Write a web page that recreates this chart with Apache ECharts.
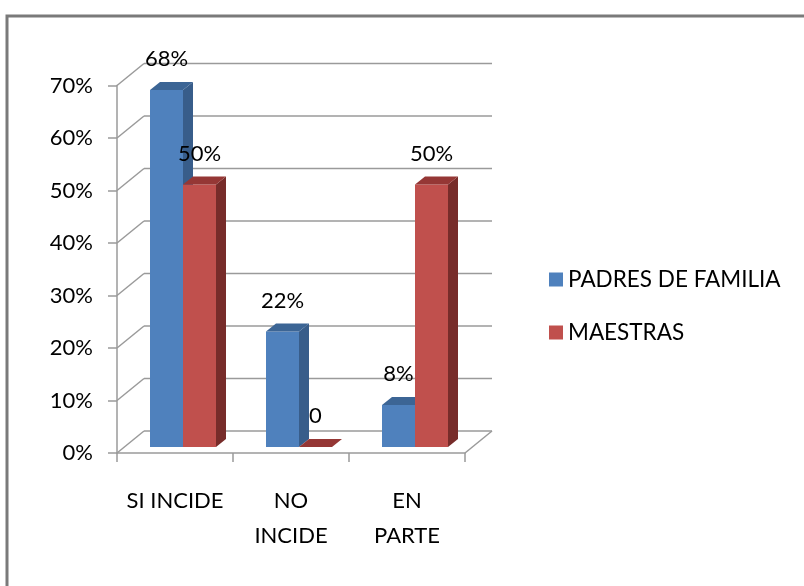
<!DOCTYPE html>
<html><head><meta charset="utf-8">
<script src="https://cdn.jsdelivr.net/npm/echarts@6/dist/echarts.min.js"></script>
<style>html,body{margin:0;padding:0;background:#fff}#c{width:804px;height:586px}</style>
</head><body><div id="c"></div>
<script>
const categories = ['SI INCIDE', 'NO\nINCIDE', 'EN\nPARTE'];
const padres = [68, 22, 8];
const maestras = [50, 0, 50];
const yTicks = [0, 10, 20, 30, 40, 50, 60, 70];
const seriesNames = ['PADRES DE FAMILIA', 'MAESTRAS'];

const FONT = 'Lato';
const DEPTH_X = 27, DEPTH_Y = -22;      // back wall offset
const BAR_DX = 8, BAR_DY = -6;          // bar front plane offset
const SIDE_X = 10, SIDE_Y = -8;         // bar thickness
const BAR_FRAC = 33 / 116;

const palettes = [
  {front: '#4F81BD', side: '#385D8A', top: '#3C6595'},
  {front: '#C0504D', side: '#772C2A', top: '#953735'}
];

function barRender(si) {
  return function (params, api) {
    const idx = api.value(0), val = api.value(1);
    const pTop = api.coord([idx, val]);
    const pBase = api.coord([idx, 0]);
    const band = api.size([1, 0])[0];
    const bw = band * BAR_FRAC;
    const cx = pTop[0] + BAR_DX;
    const xl = si === 0 ? cx - bw : cx;
    const yT = pTop[1] + BAR_DY, yB = pBase[1] + BAR_DY;
    const pal = palettes[si];
    const children = [];
    if (yB - yT > 0.5) {
      children.push({type: 'rect', shape: {x: xl, y: yT, width: bw, height: yB - yT}, style: {fill: pal.front}});
      children.push({type: 'polygon', shape: {points: [[xl + bw, yT], [xl + bw + SIDE_X, yT + SIDE_Y], [xl + bw + SIDE_X, yB + SIDE_Y], [xl + bw, yB]]}, style: {fill: pal.side}});
    }
    children.push({type: 'polygon', shape: {points: [[xl, yT], [xl + SIDE_X, yT + SIDE_Y], [xl + bw + SIDE_X, yT + SIDE_Y], [xl + bw, yT]]}, style: {fill: pal.top}});
    children.push({type: 'text', style: {text: val === 0 ? '0' : val + '%', x: xl + bw / 2, y: yT - 20, align: 'center', verticalAlign: 'bottom', fill: '#000', font: '22px ' + FONT}});
    return {type: 'group', children: children};
  };
}

function wallRender(params, api) {
  const v = api.value(1);
  const cs = params.coordSys;
  const x0 = cs.x, x1 = cs.x + cs.width;
  const y = api.coord([0, v])[1];
  const st = {stroke: '#9a9a9a', lineWidth: 1.5};
  const ch = [
    {type: 'line', shape: {x1: x0, y1: y, x2: x0 + DEPTH_X, y2: y + DEPTH_Y}, style: st},
    {type: 'line', shape: {x1: x0 + DEPTH_X, y1: y + DEPTH_Y, x2: x1 + DEPTH_X, y2: y + DEPTH_Y}, style: st}
  ];
  if (v === 0) {
    ch.push({type: 'line', shape: {x1: x1, y1: y, x2: x1 + DEPTH_X, y2: y + DEPTH_Y}, style: st});
  }
  return {type: 'group', children: ch};
}

const chart = echarts.init(document.getElementById('c'));
chart.setOption({
  animation: false,
  textStyle: {fontFamily: FONT},
  graphic: [{type: 'rect', shape: {x: 7, y: 16, width: 830, height: 620}, style: {fill: 'none', stroke: '#7a7a7a', lineWidth: 3}, z: 100}],
  grid: {left: 117, top: 85.5, right: 339, bottom: 133},
  legend: {
    orient: 'vertical', left: 544, top: 263, icon: 'rect', itemWidth: 14, itemHeight: 14, itemGap: 30,
    data: seriesNames,
    textStyle: {fontFamily: FONT, fontSize: 22.5, color: '#000', lineHeight: 22}
  },
  xAxis: {
    type: 'category', data: categories,
    axisLine: {lineStyle: {color: '#9a9a9a', width: 1.5}},
    axisTick: {show: true, length: 9, lineStyle: {color: '#9a9a9a', width: 1.5}},
    axisLabel: {fontFamily: FONT, fontSize: 22, color: '#000', margin: 30, lineHeight: 35, interval: 0}
  },
  yAxis: {
    type: 'value', min: 0, max: 70, interval: 10,
    axisLine: {show: true, lineStyle: {color: '#9a9a9a', width: 1.5}},
    axisTick: {show: true, length: 9, lineStyle: {color: '#9a9a9a', width: 1.5}},
    splitLine: {show: false},
    axisLabel: {fontFamily: FONT, fontSize: 22, color: '#000', margin: 24, formatter: '{value}%'}
  },
  series: [
    {type: 'custom', name: 'walls', renderItem: wallRender, data: yTicks.map(v => [0, v]), encode: {x: 0, y: 1}, silent: true, z: 1},
    {type: 'custom', name: seriesNames[0], renderItem: barRender(0), data: padres.map((v, i) => [i, v]), encode: {x: 0, y: 1}, itemStyle: {color: palettes[0].front}, z: 2},
    {type: 'custom', name: seriesNames[1], renderItem: barRender(1), data: maestras.map((v, i) => [i, v]), encode: {x: 0, y: 1}, itemStyle: {color: palettes[1].front}, z: 3}
  ]
});
</script></body></html>
